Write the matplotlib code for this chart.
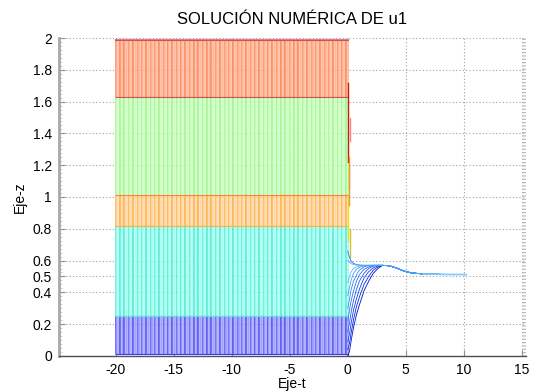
import numpy as np
import matplotlib.pyplot as plt
from matplotlib.ticker import MultipleLocator

plt.rcParams['font.family'] = ['Liberation Sans', 'DejaVu Sans']
plt.rcParams['axes.unicode_minus'] = False

# initial profile u1(z) for t < 0: piecewise bands (lower z, upper z, light colour, dark colour)
band_low = [0.01, 0.25, 0.82, 1.01, 1.63]
band_high = [0.25, 0.82, 1.01, 1.63, 1.985]
band_light = ['#a0a0ff', '#a4fff0', '#ffd8a8', '#ccffc2', '#ffb89a']
band_dark = ['#5050f0', '#50ecd8', '#ffb040', '#a0f590', '#ff8558']
edge_colors = ['#3c3cf0', '#66e0d0', '#ffb040', '#ff8040', '#d05050']

# characteristic start times
t_start = np.arange(-20.0, 0.01, 0.125)

# numerical solution for t > 0 (several starting heights)
t_early = [0.0, 0.15, 0.3, 0.5, 0.75, 1.0, 1.4, 1.8, 2.2, 2.6]
z_early = [
    [0.00, 0.03, 0.10, 0.18, 0.26, 0.32, 0.41, 0.47, 0.52, 0.55],
    [0.04, 0.08, 0.15, 0.23, 0.31, 0.37, 0.45, 0.50, 0.54, 0.56],
    [0.09, 0.14, 0.21, 0.29, 0.36, 0.42, 0.49, 0.53, 0.555, 0.565],
    [0.15, 0.21, 0.28, 0.35, 0.42, 0.47, 0.52, 0.55, 0.565, 0.57],
    [0.22, 0.29, 0.35, 0.41, 0.47, 0.51, 0.545, 0.56, 0.57, 0.57],
    [0.30, 0.36, 0.42, 0.47, 0.51, 0.54, 0.56, 0.568, 0.57, 0.57],
    [0.38, 0.43, 0.48, 0.52, 0.545, 0.557, 0.566, 0.57, 0.57, 0.57],
    [0.46, 0.50, 0.53, 0.55, 0.56, 0.565, 0.57, 0.57, 0.57, 0.57],
    [0.66, 0.62, 0.595, 0.582, 0.575, 0.572, 0.57, 0.57, 0.57, 0.57],
    [0.60, 0.59, 0.58, 0.575, 0.572, 0.57, 0.57, 0.57, 0.57, 0.57],
]
t_tail = [3.0, 3.6, 4.2, 4.8, 5.5, 6.5, 8.0, 10.2]
z_tail = [0.57, 0.567, 0.553, 0.535, 0.522, 0.516, 0.513, 0.512]
curve_colors = ['#0010d0', '#0028e0', '#1040ec', '#2058f2', '#2a70f6',
                '#3088fa', '#40a0ff', '#60b8ff', '#1a70f0', '#50b0ff']

# short traces right at t = 0
spike_t = [0.03, 0.06, 0.09, 0.12, 0.15, 0.18]
spike_lo = [1.22, 0.72, 1.05, 0.95, 1.35, 0.62]
spike_hi = [1.72, 1.0, 1.25, 1.2, 1.5, 0.8]
spike_colors = ['#c02000', '#f0e020', '#ff9020', '#e0a030', '#ff8080', '#d0c040']

yticks = [0, 0.2, 0.4, 0.5, 0.6, 0.8, 1, 1.2, 1.4, 1.6, 1.8, 2]
yticklabels = ['0', '0.2', '0.4', '0.5', '0.6', '0.8', '1', '1.2', '1.4', '1.6', '1.8', '2']
xticks = [-20, -15, -10, -5, 0, 5, 10, 15]

fig = plt.figure(figsize=(5.36, 3.92), dpi=100)
ax = fig.add_axes([0.110, 0.092, 0.871, 0.811])

for lo, hi, cl, cd, ce in zip(band_low, band_high, band_light, band_dark, edge_colors):
    for i, t in enumerate(t_start):
        c = cd if i % 3 == 0 else cl
        ax.plot([t, t], [lo, hi], color=c, lw=1.15)
    ax.plot([t_start[0], 0], [lo, lo], color=ce, lw=0.8)
ax.plot([t_start[0], 0], [1.985, 1.985], color='#d05050', lw=1.5)
ax.plot([t_start[0], 0], [1.995, 1.995], color='#e08080', lw=0.8)

for t, lo, hi, c in zip(spike_t, spike_lo, spike_hi, spike_colors):
    ax.plot([t, t], [lo, hi], color=c, lw=1.0)

for zs, c in zip(z_early, curve_colors):
    ax.plot(t_early + t_tail, zs + z_tail, color=c, lw=0.6)
ax.plot(t_tail[-3:], z_tail[-3:], color='#80c8ff', lw=1.2)

ax.set_xlim(-24.9, 15.35)
ax.set_ylim(0, 2)
ax.set_xticks(xticks)
ax.set_yticks(yticks)
ax.set_yticklabels(yticklabels)
ax.yaxis.set_minor_locator(MultipleLocator(0.025))
ax.tick_params(axis='both', direction='in', labelsize=10, color='#909090', length=4, pad=5)
ax.tick_params(axis='y', which='minor', direction='in', length=2, color='#c0c0c0')
ax.grid(True, linestyle=(0, (1, 2)), color='#a0a0a0', lw=0.8)
ax.set_axisbelow(True)
for v in [15.1, 15.2, 15.3]:
    ax.axvline(v, linestyle=(0, (1, 2)), color='#b8b8b8', lw=0.8)

for side in ['top', 'right']:
    ax.spines[side].set_visible(False)
ax.spines['left'].set_color('#a8a8a8')
ax.spines['left'].set_linewidth(2.0)
ax.spines['bottom'].set_color('#505050')
ax.spines['bottom'].set_linewidth(1.0)

ax.set_title('SOLUCIÓN NUMÉRICA DE u1', fontsize=12, pad=10)
ax.set_xlabel('Eje-t', fontsize=10, labelpad=0)
ax.set_ylabel('Eje-z', fontsize=10, labelpad=4)

fig.savefig('out.png', dpi=100)
